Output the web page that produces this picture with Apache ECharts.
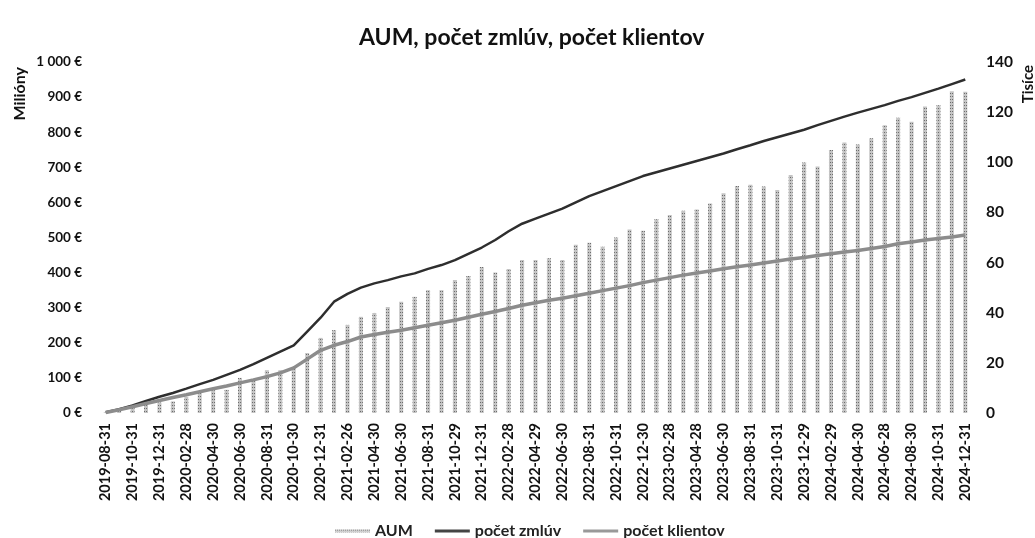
<!DOCTYPE html>
<html>
<head>
    <meta charset="utf-8">
    <title>AUM, počet zmlúv, počet klientov</title>
    <script src="https://cdn.jsdelivr.net/npm/echarts@6.0.0/dist/echarts.min.js"></script>
    <style>
        html, body { margin: 0; padding: 0; background: #fff; }
        #chart { width: 1035px; height: 538px; }
    </style>
</head>
<body>
    <div id="chart"></div>
    <script>
        // mesačné dáta (koniec mesiaca)
        var dates = [
            '2019-08-31', '2019-09-30', '2019-10-31', '2019-11-29', '2019-12-31',
            '2020-01-31', '2020-02-28', '2020-03-31', '2020-04-30', '2020-05-29', '2020-06-30',
            '2020-07-31', '2020-08-31', '2020-09-30', '2020-10-30', '2020-11-30', '2020-12-31',
            '2021-01-29', '2021-02-26', '2021-03-31', '2021-04-30', '2021-05-31', '2021-06-30',
            '2021-07-30', '2021-08-31', '2021-09-30', '2021-10-29', '2021-11-30', '2021-12-31',
            '2022-01-31', '2022-02-28', '2022-03-31', '2022-04-29', '2022-05-31', '2022-06-30',
            '2022-07-29', '2022-08-31', '2022-09-30', '2022-10-31', '2022-11-30', '2022-12-30',
            '2023-01-31', '2023-02-28', '2023-03-31', '2023-04-28', '2023-05-31', '2023-06-30',
            '2023-07-31', '2023-08-31', '2023-09-29', '2023-10-31', '2023-11-30', '2023-12-29',
            '2024-01-31', '2024-02-29', '2024-03-29', '2024-04-30', '2024-05-31', '2024-06-28',
            '2024-07-31', '2024-08-30', '2024-09-30', '2024-10-31', '2024-11-29', '2024-12-31'
        ];

        // AUM v miliónoch €
        var aum = [
            2, 8, 18, 28, 30,
            33, 46, 57, 65, 66, 100,
            94, 122, 122, 128, 171, 214,
            236, 251, 274, 285, 302, 317,
            331, 350, 350, 379, 390, 416,
            400, 410, 436, 436, 441, 436,
            479, 485, 474, 500, 523, 519,
            552, 564, 576, 580, 597, 626,
            647, 650, 645, 635, 678, 714,
            702, 749, 771, 765, 783, 820,
            841, 830, 873, 877, 917, 915
        ];

        // počet zmlúv v tisícoch
        var zmluvy = [
            0.3, 1.5, 3, 4.8, 6.5,
            8, 9.7, 11.5, 13.2, 15.2, 17.2,
            19.5, 22, 24.5, 27, 32.5, 38,
            44.4, 47.5, 50, 51.7, 53, 54.5,
            55.7, 57.5, 59, 61, 63.5, 66,
            69, 72.5, 75.5, 77.5, 79.5, 81.5,
            84, 86.5, 88.5, 90.5, 92.5, 94.5,
            96, 97.5, 99, 100.5, 102, 103.5,
            105.2, 106.8, 108.5, 110, 111.5, 113,
            114.8, 116.5, 118.2, 119.8, 121.3, 122.8,
            124.5, 126, 127.7, 129.4, 131.2, 133
        ];

        // počet klientov v tisícoch
        var klienti = [
            0.2, 1.3, 2.5, 3.8, 5,
            6.2, 7.3, 8.5, 9.7, 10.8, 12,
            13.2, 14.5, 16, 18, 21.5, 25,
            27, 28.5, 30.3, 31.3, 32.2, 33,
            34, 35, 36, 37, 38.2, 39.4,
            40.5, 41.7, 43, 44, 45, 45.8,
            46.8, 47.8, 48.8, 49.8, 50.8, 52,
            53, 54, 55, 55.8, 56.6, 57.5,
            58.3, 59, 59.8, 60.6, 61.4, 62,
            62.8, 63.5, 64.2, 64.8, 65.6, 66.4,
            67.5, 68.2, 69, 69.6, 70.2, 71
        ];

        var fontName = 'Lato';
        var chart = echarts.init(document.getElementById('chart'));

        function euro(v) {
            var s = String(v);
            if (v >= 1000) {
                s = s.slice(0, s.length - 3) + ' ' + s.slice(-3);
            }
            return s + ' €';
        }

        var option = {
            animation: false,
            textStyle: { fontFamily: fontName },
            title: {
                text: 'AUM, počet zmlúv, počet klientov',
                left: 354,
                top: 21,
                textStyle: { fontFamily: fontName, fontSize: 23, fontWeight: 'bold', color: '#111' }
            },
            grid: { left: 99, right: 63, top: 62, bottom: 125 },
            legend: {
                top: 518,
                left: 330,
                itemWidth: 35,
                itemHeight: 3,
                itemGap: 22,
                textStyle: { fontFamily: fontName, fontSize: 16, fontWeight: 'bold', color: '#222' },
                data: [
                    { name: 'AUM', icon: 'rect', itemStyle: { color: '#cfcfcf' } },
                    { name: 'počet zmlúv', icon: 'rect', itemStyle: { color: '#444' } },
                    { name: 'počet klientov', icon: 'rect', itemStyle: { color: '#999' } }
                ]
            },
            graphic: [
                {
                    type: 'text', left: 12, top: 67, rotation: Math.PI / 2,
                    style: { text: 'Milióny', font: 'bold 16px Lato', fill: '#111' }
                },
                {
                    type: 'text', left: 1021, top: 65, rotation: Math.PI / 2,
                    style: { text: 'Tisíce', font: 'bold 15px Lato', fill: '#111' }
                }
            ],
            xAxis: {
                type: 'category',
                data: dates,
                boundaryGap: true,
                axisLine: { show: false },
                axisTick: { show: false },
                axisLabel: {
                    interval: 1,
                    rotate: 90,
                    margin: 10,
                    fontFamily: fontName,
                    fontSize: 14.5,
                    fontWeight: 'bold',
                    color: '#111'
                }
            },
            yAxis: [
                {
                    type: 'value',
                    min: 0, max: 1000, interval: 100,
                    splitLine: { show: false },
                    axisLine: { show: false },
                    axisTick: { show: false },
                    axisLabel: {
                        margin: 17,
                        formatter: euro,
                        fontFamily: fontName, fontSize: 13.5, fontWeight: 'bold', color: '#111'
                    }
                },
                {
                    type: 'value',
                    min: 0, max: 140, interval: 20,
                    splitLine: { show: false },
                    axisLine: { show: false },
                    axisTick: { show: false },
                    axisLabel: {
                        margin: 14,
                        fontFamily: fontName, fontSize: 15.5, fontWeight: 'bold', color: '#111'
                    }
                }
            ],
            series: [
                {
                    name: 'AUM',
                    type: 'bar',
                    yAxisIndex: 0,
                    data: aum,
                    barWidth: 4,
                    itemStyle: {
                        color: '#c4c4c4',
                        decal: {
                            symbol: 'rect',
                            symbolSize: 1,
                            dashArrayX: [1, 1],
                            dashArrayY: [1, 2],
                            color: 'rgba(50,50,50,0.6)'
                        }
                    }
                },
                {
                    name: 'počet zmlúv',
                    type: 'line',
                    yAxisIndex: 1,
                    data: zmluvy,
                    showSymbol: false,
                    lineStyle: { color: '#2e2e2e', width: 2.5 }
                },
                {
                    name: 'počet klientov',
                    type: 'line',
                    yAxisIndex: 1,
                    data: klienti,
                    showSymbol: false,
                    lineStyle: { color: '#8c8c8c', width: 3.5 }
                }
            ]
        };
        chart.setOption(option);
    </script>
</body>
</html>
